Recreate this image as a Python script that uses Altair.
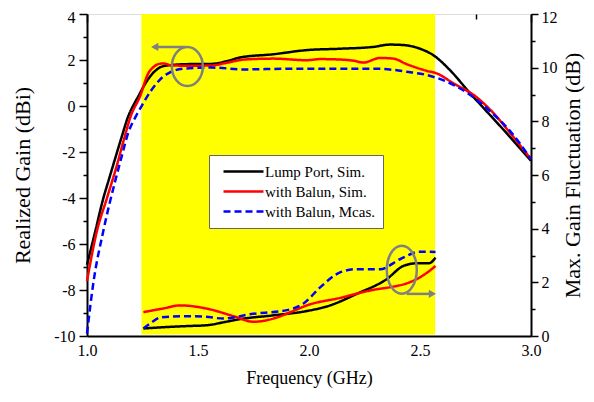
import altair as alt
import pandas as pd

# ---------------- data ----------------
series = ["Lump Port, Sim.", "with Balun, Sim.", "with Balun, Mcas."]
colors = ["#000000", "#ff0000", "#0000ff"]
dashes = [[1, 0], [1, 0], [7, 4]]

# Realized gain (left axis, dBi)
f_lump = [1.0, 1.036, 1.073, 1.1, 1.126, 1.156, 1.186, 1.21, 1.231, 1.255, 1.284, 1.31, 1.336, 1.38,
          1.45, 1.56, 1.63, 1.69, 1.84, 1.99, 2.14, 2.29, 2.365, 2.425, 2.5, 2.56, 2.635, 2.725,
          2.8, 2.875, 3.0]
g_lump = [-6.9, -5.5, -4.03, -3.15, -2.31, -1.35, -0.44, 0.05, 0.42, 0.85, 1.28, 1.55, 1.71, 1.78,
          1.82, 1.83, 1.95, 2.11, 2.25, 2.43, 2.49, 2.57, 2.67, 2.65, 2.49, 2.21, 1.56, 0.56,
          -0.23, -1.02, -2.38]

f_balun = [1.0, 1.044, 1.09, 1.134, 1.165, 1.197, 1.239, 1.276, 1.3, 1.321, 1.345, 1.38, 1.45, 1.56,
           1.63, 1.71, 1.84, 1.99, 2.05, 2.14, 2.2, 2.245, 2.32, 2.38, 2.44, 2.53, 2.575, 2.65,
           2.75, 2.83, 2.905, 3.0]
g_balun = [-7.61, -5.46, -4.0, -2.6, -1.5, -0.44, 0.42, 1.42, 1.7, 1.82, 1.85, 1.77, 1.75, 1.76,
           1.88, 2.02, 2.06, 1.99, 2.04, 2.02, 1.97, 1.89, 2.09, 2.06, 1.82, 1.53, 1.42, 0.99,
           0.42, -0.3, -1.16, -2.31]

f_meas = [1.0, 1.03, 1.073, 1.1, 1.126, 1.156, 1.186, 1.22, 1.254, 1.285, 1.314, 1.34, 1.366, 1.44,
          1.56, 1.71, 1.9, 2.1, 2.3, 2.38, 2.44, 2.52, 2.62, 2.725, 2.815, 2.905, 3.0]
g_meas = [-9.9, -7.6, -5.46, -4.3, -3.3, -2.2, -1.16, -0.45, 0.13, 0.62, 0.99, 1.25, 1.42, 1.63,
          1.67, 1.59, 1.62, 1.62, 1.62, 1.57, 1.49, 1.37, 1.06, 0.49, -0.22, -1.08, -2.31]

# Max. gain fluctuation (right axis, dB)
fb_lump = [1.254, 1.35, 1.45, 1.539, 1.62, 1.69, 1.84, 1.99, 2.095, 2.215, 2.35, 2.425, 2.485, 2.54, 2.57]
vb_lump = [0.28, 0.33, 0.37, 0.40, 0.52, 0.63, 0.77, 0.93, 1.14, 1.57, 2.12, 2.61, 2.71, 2.71, 2.92]

fb_balun = [1.254, 1.34, 1.42, 1.54, 1.66, 1.75, 1.84, 1.92, 1.99, 2.14, 2.29, 2.38, 2.44, 2.485, 2.53, 2.57]
vb_balun = [0.89, 1.02, 1.14, 1.02, 0.74, 0.53, 0.65, 0.9, 1.14, 1.42, 1.72, 1.84, 1.96, 2.12, 2.35, 2.61]

fb_meas = [1.254, 1.29, 1.33, 1.434, 1.53, 1.614, 1.734, 1.914, 1.974, 2.05, 2.14, 2.215, 2.32, 2.41, 2.5, 2.57]
vb_meas = [0.28, 0.5, 0.69, 0.74, 0.72, 0.65, 0.81, 0.99, 1.2, 1.81, 2.37, 2.49, 2.49, 2.86, 3.14, 3.13]

# highlighted band
band_f = [1.245, 2.568]
band_g = [-9.93, 4.0]

# annotation ellipses / arrows
ell_top = {"f": [1.452], "g": [1.72]}
arr_top = {"f1": [1.30], "f2": [1.444], "g": [2.57], "tip": [1.305]}
ell_bot = {"f": [2.418], "v": [2.47]}
arr_bot = {"f1": [2.44], "f2": [2.56], "v": [1.57], "tip": [2.556]}

# ---------------- tables ----------------
def frame(fs, vs, name):
    return pd.DataFrame({"f": fs, "v": vs, "s": name})

top_df = pd.concat([frame(f_lump, g_lump, series[0]),
                    frame(f_balun, g_balun, series[1]),
                    frame(f_meas, g_meas, series[2])])
bot_df = pd.concat([frame(fb_lump, vb_lump, series[0]),
                    frame(fb_balun, vb_balun, series[1]),
                    frame(fb_meas, vb_meas, series[2])])
band_df = pd.DataFrame({"f1": [band_f[0]], "f2": [band_f[1]], "g1": [band_g[0]], "g2": [band_g[1]]})

FONT = "Liberation Serif"
W, H = 444, 322
XS = alt.Scale(domain=[1, 3], nice=False, zero=False)
YL = alt.Scale(domain=[-10, 4], nice=False, zero=False)
YR = alt.Scale(domain=[0, 12], nice=False, zero=False)
GRAY = "#808080"


def ellipse_path(rx):
    k = 0.5523
    return (f"M0,-1C{k*rx:.3f},-1 {rx:.3f},{-k:.3f} {rx:.3f},0"
            f"C{rx:.3f},{k:.3f} {k*rx:.3f},1 0,1"
            f"C{-k*rx:.3f},1 {-rx:.3f},{k:.3f} {-rx:.3f},0"
            f"C{-rx:.3f},{-k:.3f} {-k*rx:.3f},-1 0,-1Z")


label_axis = alt.Axis(values=[1.0, 1.5, 2.0, 2.5, 3.0], format=".1f", ticks=False,
                      domainColor="black", domainWidth=2, labelFont=FONT, labelFontSize=16,
                      labelColor="black", labelPadding=6, labelFlush=False, grid=False,
                      title="Frequency (GHz)", titleFont=FONT, titleFontSize=18,
                      titleFontWeight="normal", titleColor="black", titlePadding=11)
major_x = alt.Axis(values=[1.0, 1.5, 2.0, 2.5, 3.0], labels=False, domain=False, grid=False,
                   tickSize=8, tickWidth=1.5, tickColor="black", offset=-8, title=None)
minor_x = alt.Axis(values=[1.25, 1.75, 2.25, 2.75], labels=False, domain=False, grid=False,
                   tickSize=5, tickWidth=1.5, tickColor="black", offset=-5, title=None)

left_axis = alt.Axis(values=list(range(-10, 5)),
                     labelExpr="datum.value % 2 == 0 ? '' + datum.value : ''",
                     labelOffset={"condition": {"test": "datum.value == 4", "value": 3}, "value": 0},
                     tickSize={"condition": {"test": "datum.value % 2 != 0", "value": 4}, "value": 8},
                     tickWidth=1.5, tickColor="black", domainColor="black", domainWidth=2,
                     labelFont=FONT, labelFontSize=16, labelColor="black", labelPadding=4,
                     labelFlush=False, grid=False, title="Realized Gain (dBi)", titleFont=FONT,
                     titleFontSize=22, titleFontWeight="normal", titleColor="black",
                     titlePadding=19)
right_axis = alt.Axis(orient="right", values=list(range(0, 13)),
                      labelExpr="datum.value % 2 == 0 ? '' + datum.value : ''",
                      labelOffset={"condition": {"test": "datum.value == 12", "value": 3}, "value": 0},
                      tickSize={"condition": {"test": "datum.value % 2 != 0", "value": 4}, "value": 7},
                      tickWidth=1.5, tickColor="black", domainColor="black", domainWidth=2,
                      labelFont=FONT, labelFontSize=16, labelColor="black", labelPadding=3,
                      labelFlush=False, grid=False, title="Max. Gain Fluctuation (dB)",
                      titleFont=FONT, titleFontSize=22, titleFontWeight="normal",
                      titleColor="black", titlePadding=5, titleAngle=270, titleBaseline="top")

legend = alt.Legend(title=None, orient="none", legendX=122, legendY=141,
                    fillColor="white", strokeColor="#666666", padding=8,
                    symbolType="M-2.857,0L2.857,0", symbolSize=196, symbolStrokeWidth=2.5,
                    symbolOffset=18, labelOffset=13, labelFont=FONT, labelFontSize=15,
                    labelColor="black", rowPadding=3)

color = alt.Color("s:N", scale=alt.Scale(domain=series, range=colors), legend=legend)
dash = alt.StrokeDash("s:N", scale=alt.Scale(domain=series, range=dashes), legend=legend)

band = alt.Chart(band_df).mark_rect(color="#ffff00").encode(
    x=alt.X("f1:Q", scale=XS, axis=label_axis),
    x2="f2:Q",
    y=alt.Y("g1:Q", scale=YL, axis=left_axis),
    y2="g2:Q",
)

top = alt.Chart(top_df).mark_line(strokeWidth=2.5, interpolate="monotone").encode(
    x=alt.X("f:Q", scale=XS, axis=major_x),
    y=alt.Y("v:Q", scale=YL, axis=None),
    color=color, strokeDash=dash, order="f:Q",
)

bot = alt.Chart(bot_df).mark_line(strokeWidth=2.5, interpolate="monotone").encode(
    x=alt.X("f:Q", scale=XS, axis=minor_x),
    y=alt.Y("v:Q", scale=YR, axis=right_axis),
    color=color, strokeDash=dash, order="f:Q",
)

e1 = alt.Chart(pd.DataFrame(ell_top)).mark_point(
    shape=ellipse_path(31 / 39), size=39 * 39, filled=False, color=GRAY, strokeWidth=2.5, opacity=1
).encode(x=alt.X("f:Q", scale=XS, axis=None), y=alt.Y("g:Q", scale=YL, axis=None))
a1 = alt.Chart(pd.DataFrame(arr_top)).mark_rule(color=GRAY, strokeWidth=2.5).encode(
    x=alt.X("f1:Q", scale=XS, axis=None), x2="f2:Q", y=alt.Y("g:Q", scale=YL, axis=None))
h1 = alt.Chart(pd.DataFrame(arr_top)).mark_point(
    shape="triangle-left", size=70, filled=True, color=GRAY, opacity=1
).encode(x=alt.X("tip:Q", scale=XS, axis=None), y=alt.Y("g:Q", scale=YL, axis=None))

e2 = alt.Chart(pd.DataFrame(ell_bot)).mark_point(
    shape=ellipse_path(30 / 48), size=48 * 48, filled=False, color=GRAY, strokeWidth=2.5, opacity=1
).encode(x=alt.X("f:Q", scale=XS, axis=None), y=alt.Y("v:Q", scale=YR, axis=None))
a2 = alt.Chart(pd.DataFrame(arr_bot)).mark_rule(color=GRAY, strokeWidth=2.5).encode(
    x=alt.X("f1:Q", scale=XS, axis=None), x2="f2:Q", y=alt.Y("v:Q", scale=YR, axis=None))
h2 = alt.Chart(pd.DataFrame(arr_bot)).mark_point(
    shape="triangle-right", size=70, filled=True, color=GRAY, opacity=1
).encode(x=alt.X("tip:Q", scale=XS, axis=None), y=alt.Y("v:Q", scale=YR, axis=None))

chart = alt.layer(band, top, bot, e1, a1, h1, e2, a2, h2).resolve_scale(
    y="independent"
).resolve_axis(
    x="independent", y="independent"
).properties(
    width=W, height=H,
    autosize=alt.AutoSizeParams(type="none"),
    padding={"left": 79, "top": 6, "right": 55, "bottom": 52},
    background="white",
).configure_view(stroke=None).configure(font=FONT)

chart.save("out.html", embed_options={"renderer": "svg", "actions": False})
